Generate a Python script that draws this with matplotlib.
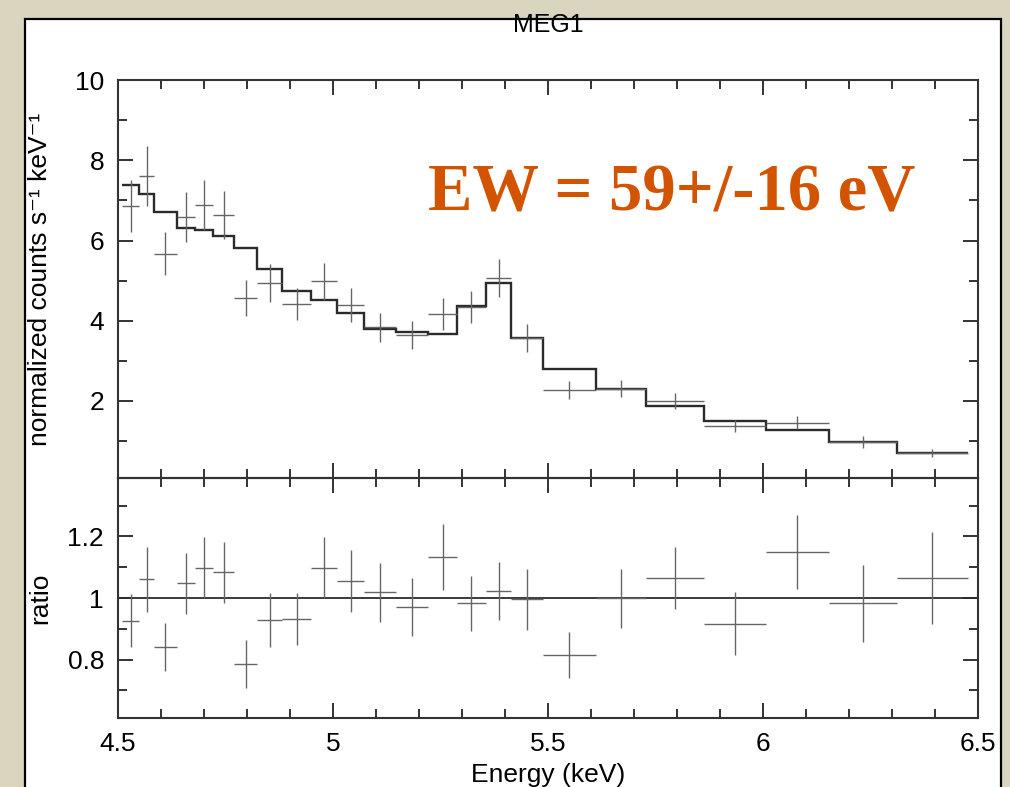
import numpy as np
import matplotlib
matplotlib.use("Agg")
import matplotlib.pyplot as plt
from matplotlib.patches import Rectangle
from matplotlib.ticker import MultipleLocator

plt.rcParams['font.family'] = ['Liberation Sans', 'DejaVu Sans']

# grouped MEG1 channels (keV bin edges)
edges = [4.509, 4.550, 4.584, 4.637, 4.679, 4.722, 4.770, 4.824, 4.882, 4.949,
         5.010, 5.072, 5.146, 5.222, 5.288, 5.356, 5.414, 5.488, 5.612, 5.728,
         5.863, 6.006, 6.154, 6.311, 6.476]
counts = [6.86, 7.61, 5.67, 6.58, 6.88, 6.64, 4.56, 4.94, 4.42, 4.98, 4.40, 3.84,
          3.64, 4.17, 4.34, 5.06, 3.56, 2.28, 2.31, 2.00, 1.38, 1.46, 0.98, 0.70]
counts_err = [0.65, 0.75, 0.53, 0.62, 0.63, 0.60, 0.45, 0.47, 0.40, 0.46, 0.42, 0.36,
              0.35, 0.39, 0.40, 0.48, 0.35, 0.22, 0.22, 0.20, 0.15, 0.17, 0.15, 0.10]
model = [7.39, 7.17, 6.71, 6.30, 6.25, 6.11, 5.81, 5.29, 4.74, 4.52, 4.19, 3.79,
         3.73, 3.67, 4.38, 4.94, 3.56, 2.79, 2.31, 1.88, 1.50, 1.27, 0.98, 0.70]
ratio = [0.926, 1.061, 0.842, 1.048, 1.099, 1.084, 0.785, 0.928, 0.931, 1.099, 1.054, 1.019,
         0.971, 1.133, 0.983, 1.024, 0.996, 0.815, 0.999, 1.064, 0.917, 1.149, 0.983, 1.066]
ratio_err = [0.086, 0.106, 0.078, 0.099, 0.098, 0.099, 0.077, 0.087, 0.085, 0.099, 0.101, 0.096,
             0.093, 0.107, 0.089, 0.094, 0.099, 0.076, 0.096, 0.101, 0.103, 0.121, 0.125, 0.150]

e = np.array(edges)
xc = (e[:-1] + e[1:]) / 2
xw = (e[1:] - e[:-1]) / 2

fig = plt.figure(figsize=(10.10, 7.87), dpi=100)
fig.patch.set_facecolor('#d9d5bf')
fig.patches.append(Rectangle((0.0248, -0.02), 0.966, 0.996, transform=fig.transFigure,
                             facecolor='white', edgecolor='black', lw=1.6, zorder=-10))

ax1 = fig.add_axes([0.1168, 0.3926, 0.8515, 0.5057])
ax2 = fig.add_axes([0.1168, 0.0877, 0.8515, 0.3049], sharex=ax1)

line_c = '#2b2b2b'
err_c = '#666666'

ax1.errorbar(xc, counts, xerr=xw, yerr=counts_err, fmt='none', ecolor=err_c, elinewidth=1.0)
ax1.stairs(model, edges, baseline=None, color=line_c, lw=1.7)

ax2.axhline(1.0, color=line_c, lw=1.3)
ax2.errorbar(xc, ratio, xerr=xw, yerr=ratio_err, fmt='none', ecolor=err_c, elinewidth=1.0)

ax1.set_xlim(4.5, 6.5)
ax1.set_ylim(0.08, 10)
ax2.set_ylim(0.61, 1.39)

for ax in (ax1, ax2):
    ax.set_facecolor('none')
    for s in ax.spines.values():
        s.set_color('#333333')
        s.set_linewidth(1.5)
    ax.xaxis.set_major_locator(MultipleLocator(0.5))
    ax.xaxis.set_minor_locator(MultipleLocator(0.1))
    ax.tick_params(which='both', direction='in', top=True, right=True, colors='#333333',
                   labelcolor='black', labelsize=19, width=1.4, pad=10)
    ax.tick_params(which='major', length=11)
    ax.tick_params(which='minor', length=6.5)

ax1.yaxis.set_major_locator(MultipleLocator(2))
ax1.yaxis.set_minor_locator(MultipleLocator(1))
ax2.yaxis.set_major_locator(MultipleLocator(0.2))
ax2.yaxis.set_minor_locator(MultipleLocator(0.1))
ax2.set_yticks([0.8, 1.0, 1.2])
ax2.set_yticklabels(['0.8', '1', '1.2'])
ax2.set_xticks([4.5, 5, 5.5, 6, 6.5])
ax2.set_xticklabels(['4.5', '5', '5.5', '6', '6.5'])
ax1.tick_params(labelbottom=False)

ax1.set_ylabel('normalized counts s⁻¹ keV⁻¹', fontsize=19, va='center')
ax1.yaxis.set_label_coords(-0.0907, 0.5)
ax2.set_ylabel('ratio', fontsize=19, va='center')
ax2.yaxis.set_label_coords(-0.0907, 0.5)
ax2.set_xlabel('Energy (keV)', fontsize=19, va='center')
ax2.xaxis.set_label_coords(0.5, -0.2375)

fig.text(0.5426, 0.968, 'MEG1', ha='center', va='center', fontsize=18)

fig.text(0.424, 0.733, 'EW = 59+/-16 eV', ha='left', va='baseline', fontsize=48,
         family=['Liberation Serif', 'DejaVu Serif'], fontweight='bold', color='#d35400')

fig.savefig('out.png', dpi=100, facecolor=fig.get_facecolor())
